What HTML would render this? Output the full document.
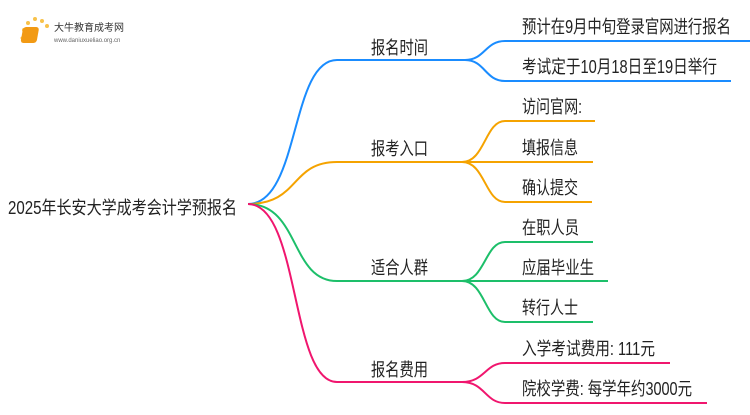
<!DOCTYPE html>
<html><head><meta charset="utf-8"><style>
body{margin:0;width:750px;height:410px;background:#fff;overflow:hidden;font-family:"Liberation Sans","Noto Sans CJK SC",sans-serif}
svg text{font-family:"Liberation Sans","Noto Sans CJK SC",sans-serif;font-size:18px;fill:#222}
</style></head><body>
<svg width="750" height="410" viewBox="0 0 750 410">
<g fill="none" stroke-width="2">
<path d="M248,204 C300,204 290,60 337,60 H467" stroke="#1a8cff"/>
<path d="M465,60 C485,60 485,41 505,41 H750 M465,60 C485,60 485,81 505,81 H731" stroke="#1a8cff"/>
<path d="M248,204 C300,204 290,162 337,162 H465" stroke="#f5a300"/>
<path d="M462,162 C485,162 485,121 505,121 H595 M462,162 H593 M462,162 C485,162 485,202 505,202 H592" stroke="#f5a300"/>
<path d="M248,204 C300,204 290,281 337,281 H465" stroke="#1dbf6a"/>
<path d="M462,281 C485,281 485,242 505,242 H593 M462,281 H608 M462,281 C485,281 485,322 505,322 H593" stroke="#1dbf6a"/>
<path d="M248,204 C300,204 290,382 337,382 H465" stroke="#f0166e"/>
<path d="M462,382 C485,382 485,363 505,363 H670 M462,382 C485,382 485,403 505,403 H707" stroke="#f0166e"/>
</g>
<g>
<text x="8" y="214" textLength="229" lengthAdjust="spacingAndGlyphs">2025年长安大学成考会计学预报名</text>
<text x="371" y="54" textLength="57" lengthAdjust="spacingAndGlyphs">报名时间</text>
<text x="371" y="155" textLength="57" lengthAdjust="spacingAndGlyphs">报考入口</text>
<text x="371" y="274" textLength="57" lengthAdjust="spacingAndGlyphs">适合人群</text>
<text x="371" y="376" textLength="57" lengthAdjust="spacingAndGlyphs">报名费用</text>
<text x="522" y="33" textLength="209" lengthAdjust="spacingAndGlyphs">预计在9月中旬登录官网进行报名</text>
<text x="522" y="73" textLength="195" lengthAdjust="spacingAndGlyphs">考试定于10月18日至19日举行</text>
<text x="522" y="113" textLength="60" lengthAdjust="spacingAndGlyphs">访问官网:</text>
<text x="522" y="154" textLength="56" lengthAdjust="spacingAndGlyphs">填报信息</text>
<text x="522" y="194" textLength="56" lengthAdjust="spacingAndGlyphs">确认提交</text>
<text x="522" y="234" textLength="57" lengthAdjust="spacingAndGlyphs">在职人员</text>
<text x="522" y="274" textLength="72" lengthAdjust="spacingAndGlyphs">应届毕业生</text>
<text x="522" y="314" textLength="56" lengthAdjust="spacingAndGlyphs">转行人士</text>
<text x="522" y="355" textLength="133" lengthAdjust="spacingAndGlyphs">入学考试费用: 111元</text>
<text x="522" y="395" textLength="170" lengthAdjust="spacingAndGlyphs">院校学费: 每学年约3000元</text>
</g>
<g>
<circle cx="24" cy="30" r="2" fill="#f8c24a"/><circle cx="28" cy="23" r="2" fill="#f8c24a"/><circle cx="35" cy="19" r="2" fill="#f8c24a"/><circle cx="42" cy="21" r="2" fill="#f8c24a"/><circle cx="47" cy="26" r="2" fill="#f8c24a"/><circle cx="22" cy="38" r="1.5" fill="#f8c24a"/>
<rect x="28" y="27" width="16" height="16" rx="3" fill="#f29a14" transform="skewX(-10)"/>
<text x="54" y="31" style="font-size:10px;fill:#333">大牛教育成考网</text>
<text x="54" y="42" style="font-size:6px;fill:#666">www.daniuxueliao.org.cn</text>
</g>
</svg>
</body></html>
